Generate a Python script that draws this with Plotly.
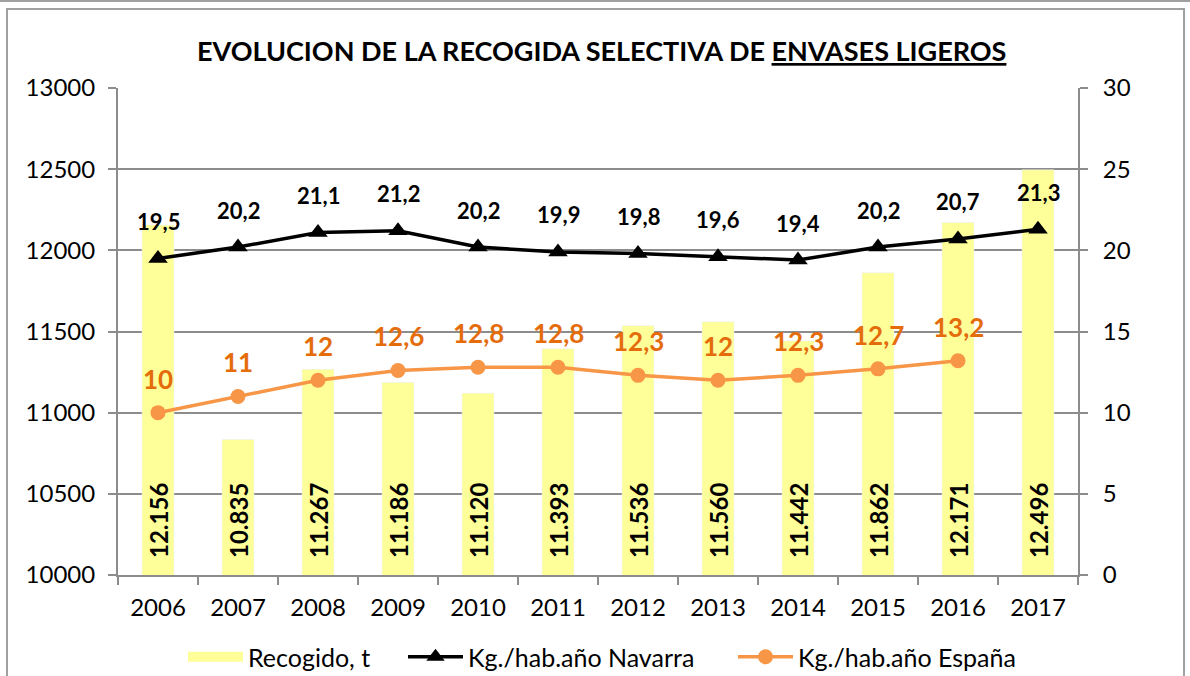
import plotly.graph_objects as go

years = ["2006", "2007", "2008", "2009", "2010", "2011", "2012", "2013", "2014", "2015", "2016", "2017"]
recogido = [12156, 10835, 11267, 11186, 11120, 11393, 11536, 11560, 11442, 11862, 12171, 12496]
navarra = [19.5, 20.2, 21.1, 21.2, 20.2, 19.9, 19.8, 19.6, 19.4, 20.2, 20.7, 21.3]
espana = [10, 11, 12, 12.6, 12.8, 12.8, 12.3, 12, 12.3, 12.7, 13.2, None]
series_names = ["Recogido, t", "Kg./hab.año Navarra", "Kg./hab.año España"]

FONT = "Lato"
GRAY = "#8c8c8c"
BAR_C = "#FFFF99"
NAV_C = "#000000"
ESP_C = "#F79646"
ESP_LBL = "#E46C0A"


def fmt_thousands(v):
    return f"{v:,}".replace(",", ".")


def fmt_dec(v):
    if float(v).is_integer():
        return str(int(v))
    return f"{v:.1f}".replace(".", ",")


L, R, T, B = 118, 112, 88, 101
pw, ph = 1190 - L - R, 676 - T - B


def px(xp):
    return (xp - L) / pw


def py(yp):
    return (676 - B - yp) / ph


fig = go.Figure()
fig.add_trace(go.Bar(x=years, y=recogido, name=series_names[0], marker_color=BAR_C,
                     width=0.4, yaxis="y", showlegend=False))
# legend entry for the bars drawn as a wide swatch
fig.add_trace(go.Scatter(x=[None], y=[None], name=series_names[0], mode="lines",
                         line=dict(color=BAR_C, width=15), legend="legend"))
fig.add_trace(go.Scatter(x=years, y=navarra, name=series_names[1], yaxis="y2",
                         mode="lines+markers", line=dict(color=NAV_C, width=3.5),
                         marker=dict(symbol="triangle-up", size=17, color=NAV_C), legend="legend2"))
fig.add_trace(go.Scatter(x=years, y=espana, name=series_names[2], yaxis="y2",
                         mode="lines+markers", line=dict(color=ESP_C, width=3.5),
                         marker=dict(symbol="circle", size=15, color=ESP_C), legend="legend3"))

annotations = []
for i, v in enumerate(recogido):
    annotations.append(dict(x=i, y=10000, xref="x", yref="y", text=f"<b>{fmt_thousands(v)}</b>",
                            textangle=-90, showarrow=False, yanchor="middle", yshift=54,
                            font=dict(family=FONT, size=24, color="#000000")))
for i, v in enumerate(navarra):
    annotations.append(dict(x=i, y=v, xref="x", yref="y2", text=f"<b>{fmt_dec(v)}</b>",
                            showarrow=False, yanchor="middle", yshift=37,
                            font=dict(family=FONT, size=22, color="#000000")))
for i, v in enumerate(espana):
    if v is None:
        continue
    annotations.append(dict(x=i, y=v, xref="x", yref="y2", text=f"<b>{fmt_dec(v)}</b>",
                            showarrow=False, yanchor="middle", yshift=34,
                            font=dict(family=FONT, size=26, color=ESP_LBL)))

annotations.append(dict(x=px(601), y=py(50), xref="paper", yref="paper", showarrow=False,
                        text='<b>EVOLUCION DE LA RECOGIDA SELECTIVA DE <span style="text-decoration:underline">ENVASES LIGEROS</span></b>',
                        font=dict(family=FONT, size=27, color="#000000"), yanchor="middle",
                        xanchor="center"))

shapes = [
    dict(type="rect", xref="paper", yref="paper", x0=px(7), x1=px(1184), y0=py(690), y1=py(9),
         line=dict(color="#a0a0a0", width=2), layer="below"),
    dict(type="line", xref="paper", yref="paper", x0=px(0), x1=px(1190), y0=py(1), y1=py(1),
         line=dict(color="#a0a0a0", width=2), layer="below"),
]

leg_common = dict(orientation="h", y=py(657), yanchor="middle", xanchor="left", itemwidth=55,
                  font=dict(family=FONT, size=25), bgcolor="rgba(0,0,0,0)")

fig.update_layout(
    width=1190, height=676,
    margin=dict(l=L, r=R, t=T, b=B, autoexpand=False),
    paper_bgcolor="white", plot_bgcolor="white",
    font=dict(family=FONT, size=24, color="#000000"),
    xaxis=dict(type="category", range=[-0.5, 11.5], showline=True, linecolor=GRAY, linewidth=2,
               ticks="outside", ticklen=8, tickcolor=GRAY, tickwidth=2, tickson="boundaries",
               showgrid=False, tickfont=dict(family=FONT, size=24), ticklabelstandoff=10,
               automargin=False),
    yaxis=dict(range=[10000, 13000], dtick=500, tickformat="d", showline=True, linecolor=GRAY,
               linewidth=2, ticks="outside", ticklen=8, tickcolor=GRAY, tickwidth=2, showgrid=True,
               gridcolor=GRAY, gridwidth=1.5, zeroline=False, tickfont=dict(family=FONT, size=24),
               ticklabelstandoff=8, automargin=False),
    yaxis2=dict(range=[0, 30], dtick=5, overlaying="y", side="right", showline=True,
                linecolor=GRAY, linewidth=2, ticks="outside", ticklen=8, tickcolor=GRAY,
                tickwidth=2, showgrid=False, zeroline=False, tickfont=dict(family=FONT, size=24),
                ticklabelstandoff=10, automargin=False),
    legend=dict(x=px(183), **leg_common),
    legend2=dict(x=px(403), **leg_common),
    legend3=dict(x=px(733), **leg_common),
    annotations=annotations,
    shapes=shapes,
    showlegend=True,
)

fig.write_html("out.html", post_script="document.body.style.margin='0';",
               config={"displayModeBar": False})
